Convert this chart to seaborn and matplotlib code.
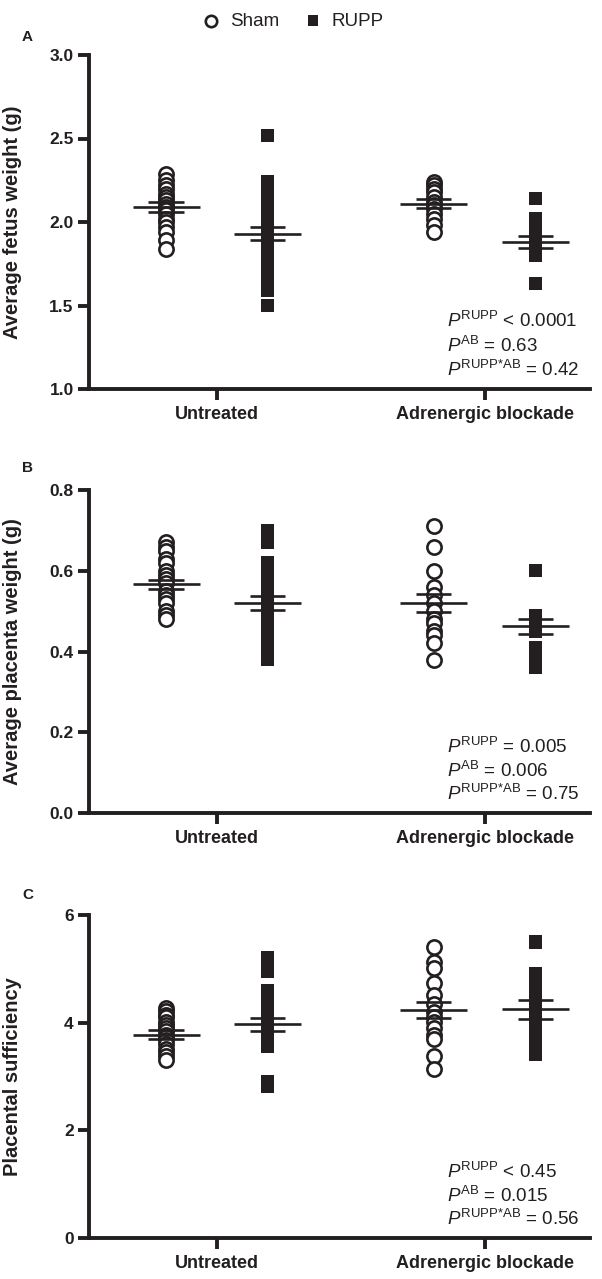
import numpy as np
import pandas as pd
import matplotlib
matplotlib.use("Agg")
import matplotlib.pyplot as plt
import seaborn as sns

# treatments on the x axis
treatments = ["Untreated", "Adrenergic blockade"]
groups = ["Sham", "RUPP"]

# panel A - average fetus weight (g)
fetus_sham_ut = [2.29, 2.25, 2.22, 2.20, 2.17, 2.15, 2.13, 2.11, 2.09, 2.07, 2.05, 2.02, 2.00, 1.97, 1.94, 1.89, 1.84]
fetus_rupp_ut = [2.52, 2.24, 2.18, 2.12, 2.07, 2.02, 1.98, 1.95, 1.92, 1.89, 1.86, 1.82, 1.78, 1.74, 1.70, 1.66, 1.62, 1.59, 1.50]
fetus_sham_ab = [2.24, 2.22, 2.20, 2.18, 2.15, 2.12, 2.10, 2.08, 2.05, 2.02, 1.98, 1.94]
fetus_rupp_ab = [2.14, 2.02, 1.98, 1.94, 1.90, 1.86, 1.83, 1.80, 1.63]
# mean and SEM: sham_ut, rupp_ut, sham_ab, rupp_ab
fetus_mean = [2.09, 1.93, 2.11, 1.88]
fetus_sem = [0.03, 0.04, 0.025, 0.037]

# panel B - average placenta weight (g)
plac_sham_ut = [0.67, 0.66, 0.65, 0.63, 0.62, 0.60, 0.59, 0.58, 0.57, 0.55, 0.54, 0.53, 0.52, 0.50, 0.49, 0.48]
plac_rupp_ut = [0.70, 0.67, 0.62, 0.60, 0.58, 0.56, 0.54, 0.52, 0.50, 0.48, 0.46, 0.44, 0.42, 0.40, 0.38]
plac_sham_ab = [0.71, 0.66, 0.60, 0.56, 0.54, 0.52, 0.50, 0.48, 0.47, 0.45, 0.44, 0.42, 0.38]
plac_rupp_ab = [0.60, 0.49, 0.46, 0.45, 0.41, 0.39, 0.37, 0.36]
plac_mean = [0.567, 0.521, 0.521, 0.462]
plac_sem = [0.011, 0.017, 0.022, 0.018]

# panel C - placental sufficiency
suff_sham_ut = [4.28, 4.22, 4.15, 4.10, 4.02, 3.96, 3.90, 3.84, 3.78, 3.74, 3.68, 3.60, 3.52, 3.45, 3.38, 3.30]
suff_rupp_ut = [5.20, 4.96, 4.60, 4.40, 4.20, 4.05, 3.95, 3.85, 3.75, 3.62, 3.55, 2.90, 2.82]
suff_sham_ab = [5.40, 5.12, 5.02, 4.74, 4.52, 4.34, 4.20, 4.10, 4.02, 3.90, 3.78, 3.70, 3.38, 3.14]
suff_rupp_ab = [5.50, 4.92, 4.75, 4.55, 4.40, 4.25, 4.10, 3.95, 3.80, 3.65, 3.50, 3.41]
suff_mean = [3.78, 3.97, 4.23, 4.25]
suff_sem = [0.09, 0.12, 0.15, 0.18]

# y axis setup per panel
fetus_ticks = [1.0, 1.5, 2.0, 2.5, 3.0]
plac_ticks = [0.0, 0.2, 0.4, 0.6, 0.8]
suff_ticks = [0, 2, 4, 6]

fetus_p = ["< 0.0001", "= 0.63", "= 0.42"]
plac_p = ["= 0.005", "= 0.006", "= 0.75"]
suff_p = ["< 0.45", "= 0.015", "= 0.56"]

INK = "#231f20"
OFFSET = 0.19

sns.set_theme(style="ticks")
plt.rcParams["font.family"] = ["Liberation Sans", "DejaVu Sans"]
plt.rcParams["mathtext.fontset"] = "custom"
plt.rcParams["mathtext.rm"] = "Liberation Sans"
plt.rcParams["mathtext.it"] = "Liberation Sans:italic"
plt.rcParams["mathtext.bf"] = "Liberation Sans:bold"


def long_table(sham_ut, rupp_ut, sham_ab, rupp_ab):
    rows = []
    for t, (sham, rupp) in enumerate([(sham_ut, rupp_ut), (sham_ab, rupp_ab)]):
        for v in sham:
            rows.append({"treatment": treatments[t], "group": "Sham", "x": t - OFFSET, "value": v})
        for v in rupp:
            rows.append({"treatment": treatments[t], "group": "RUPP", "x": t + OFFSET, "value": v})
    return pd.DataFrame(rows)


def draw_panel(ax, df, means, sems, ticks, ylabel, pvals):
    sham = df[df["group"] == "Sham"]
    rupp = df[df["group"] == "RUPP"]
    sns.scatterplot(data=sham, x="x", y="value", ax=ax, marker="o", s=105,
                    facecolor="white", edgecolor=INK, linewidth=1.9, label="Sham", zorder=3)
    sns.scatterplot(data=rupp, x="x", y="value", ax=ax, marker="s", s=90,
                    color=INK, edgecolor="none", linewidth=0, label="RUPP", zorder=3)
    # mean +/- SEM lines, order sham_ut, rupp_ut, sham_ab, rupp_ab
    centers = [0 - OFFSET, 0 + OFFSET, 1 - OFFSET, 1 + OFFSET]
    for c, m, e in zip(centers, means, sems):
        ax.hlines(m, c - 0.125, c + 0.125, color=INK, lw=1.9, zorder=4)
        ax.hlines([m - e, m + e], c - 0.066, c + 0.066, color=INK, lw=1.9, zorder=4)
        ax.vlines(c, m - e, m + e, color=INK, lw=1.9, zorder=2)

    ax.set_xlim(-0.478, 1.394)
    ax.set_ylim(ticks[0], ticks[-1])
    ax.set_yticks(ticks)
    if isinstance(ticks[0], float):
        ax.set_yticklabels([f"{t:.1f}" for t in ticks])
    ax.set_xticks([0, 1])
    ax.set_xticklabels(treatments)
    ax.set_xlabel("")
    ax.set_ylabel(ylabel, fontsize=14.5, fontweight="bold", color=INK)
    ax.yaxis.set_label_coords(-0.134, 0.5)
    ax.tick_params(axis="both", direction="out", length=8, width=2.8, color=INK,
                   labelcolor=INK)
    ax.tick_params(axis="y", labelsize=12.5, pad=3)
    ax.tick_params(axis="x", labelsize=13, pad=4.5)
    for lab in ax.get_xticklabels() + ax.get_yticklabels():
        lab.set_fontweight("bold")
    for side in ["top", "right"]:
        ax.spines[side].set_visible(False)
    for side in ["left", "bottom"]:
        ax.spines[side].set_linewidth(2.8)
        ax.spines[side].set_color(INK)
    ax.get_legend().remove()

    labels = [r"$P^{\mathrm{RUPP}}$ ", r"$P^{\mathrm{AB}}$ ", r"$P^{\mathrm{RUPP\text{*}AB}}$ "]
    ys = [0.185, 0.112, 0.04]
    for lab, pv, y in zip(labels, pvals, ys):
        ax.text(0.714, y, lab + pv, transform=ax.transAxes, fontsize=13.5,
                color=INK, va="baseline", ha="left")


fig = plt.figure(figsize=(6.02, 12.79), dpi=100)
H = 1279.0
left, width = 89 / 602, 501 / 602
axA = fig.add_axes([left, 1 - 389 / H, width, (389 - 55) / H])
axB = fig.add_axes([left, 1 - 813 / H, width, (813 - 490) / H])
axC = fig.add_axes([left, 1 - 1238 / H, width, (1238 - 915) / H])

draw_panel(axA, long_table(fetus_sham_ut, fetus_rupp_ut, fetus_sham_ab, fetus_rupp_ab),
           fetus_mean, fetus_sem, fetus_ticks, "Average fetus weight (g)", fetus_p)
draw_panel(axB, long_table(plac_sham_ut, plac_rupp_ut, plac_sham_ab, plac_rupp_ab),
           plac_mean, plac_sem, plac_ticks, "Average placenta weight (g)", plac_p)
draw_panel(axC, long_table(suff_sham_ut, suff_rupp_ut, suff_sham_ab, suff_rupp_ab),
           suff_mean, suff_sem, suff_ticks, "Placental sufficiency", suff_p)

for letter, y in [("A", 37), ("B", 468), ("C", 895)]:
    fig.text(22 / 602, 1 - y / H, letter, fontsize=11, fontweight="bold", color=INK,
             ha="left", va="center")

# shared legend on top
handles, labs = axA.collections[:2], ["Sham", "RUPP"]
fig.legend(handles, labs, loc="center", bbox_to_anchor=(293 / 602, 1 - 21 / H), ncol=2,
           frameon=False, fontsize=13.5, handlelength=1.0, handletextpad=0.5,
           columnspacing=1.3, markerscale=0.8, labelcolor=INK)

fig.savefig("out.png", dpi=100)
